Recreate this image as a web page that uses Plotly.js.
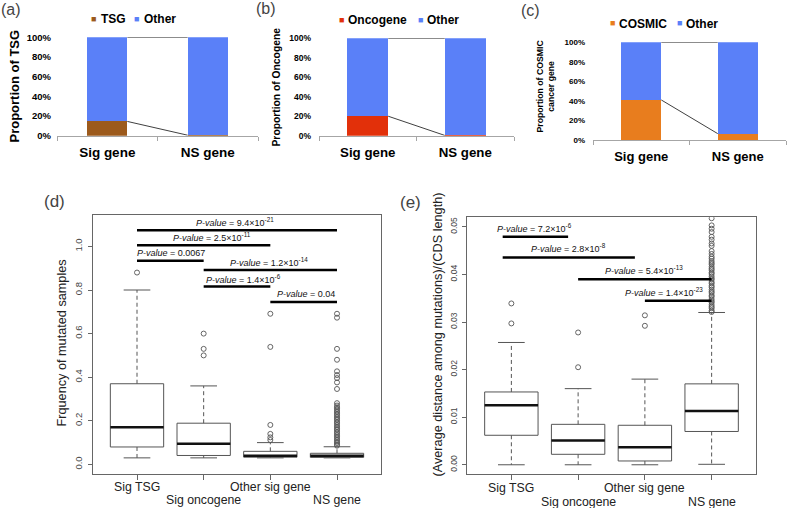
<!DOCTYPE html>
<html><head><meta charset="utf-8">
<script src="https://cdn.plot.ly/plotly-3.0.1.min.js"></script>
<style>html,body{margin:0;padding:0;background:#fff}#chart{width:787px;height:508px}</style>
</head><body><div id="chart"></div>
<script>
// ---------------- data ----------------
const barCategories = ['Sig gene', 'NS gene'];
const tsgShare = [0.145, 0.005];
const tsgOther = [0.855, 0.995];
const oncShare = [0.20, 0.003];
const oncOther = [0.80, 0.997];
const cosmicShare = [0.41, 0.065];
const cosmicOther = [0.59, 0.935];

const boxGroups = ['Sig TSG', 'Sig oncogene', 'Other sig gene', 'NS gene'];

// (d) frequency of mutated samples
const freqLowerWhisker = [0.03, 0.03, 0.03, 0.03];
const freqQ1 = [0.08, 0.041, 0.033, 0.032];
const freqMedian = [0.17, 0.095, 0.04, 0.04];
const freqQ3 = [0.37, 0.189, 0.06, 0.051];
const freqUpperWhisker = [0.80, 0.36, 0.10, 0.081];
const freqOutTSG = [0.88];
const freqOutOnc = [0.50, 0.53, 0.60];
const freqOutOther = [0.112, 0.124, 0.14, 0.181, 0.539, 0.691];
const freqOutNS = [0.086, 0.091, 0.098, 0.104, 0.112, 0.119, 0.127, 0.134, 0.142, 0.149, 0.158, 0.164, 0.172, 0.179, 0.188, 0.194, 0.203, 0.21, 0.217, 0.225, 0.232, 0.24, 0.247, 0.255, 0.262, 0.27, 0.281, 0.346, 0.376, 0.396, 0.41, 0.427, 0.48, 0.53, 0.673, 0.691];
const freqSigFrom = [1, 1, 1, 2, 2, 3];
const freqSigTo = [4, 3, 2, 4, 3, 4];
const freqSigY = [1.074, 1.005, 0.934, 0.892, 0.816, 0.745];
const freqSigTextAt = [2.47, 2.12, 1.51, 2.98, 2.59, 3.53];
const freqSigP = ['9.4×10<sup>-21</sup>', '2.5×10<sup>-11</sup>', '0.0067', '1.2×10<sup>-14</sup>', '1.4×10<sup>-6</sup>', '0.04'];

// (e) average distance among mutations / CDS length
const distLowerWhisker = [0, 0, 0, 0.0001];
const distQ1 = [0.0062, 0.0022, 0.0008, 0.0070];
const distMedian = [0.0125, 0.0051, 0.0037, 0.0113];
const distQ3 = [0.0153, 0.0085, 0.0083, 0.0170];
const distUpperWhisker = [0.0257, 0.0160, 0.0180, 0.0320];
const distOutTSG = [0.0297, 0.0339];
const distOutOnc = [0.0205, 0.0278];
const distOutOther = [0.0292, 0.0314];
const distOutNS = [0.0321, 0.0324, 0.0329, 0.0332, 0.0336, 0.0341, 0.0344, 0.0348, 0.0353, 0.0356, 0.0361, 0.0364, 0.0368, 0.0373, 0.0376, 0.0381, 0.0384, 0.0389, 0.0392, 0.0396, 0.0401, 0.0404, 0.0409, 0.0412, 0.0416, 0.0421, 0.0424, 0.0428, 0.0433, 0.0437, 0.0443, 0.0449, 0.0460, 0.0465, 0.0473, 0.0479, 0.0489, 0.0496, 0.0503, 0.0518];
const distSigFrom = [0.87, 0.87, 2, 3];
const distSigTo = [1.85, 2.85, 4, 4];
const distSigY = [0.0479, 0.04357, 0.0390, 0.03447];
const distSigTextAt = [1.35, 1.85, 2.98, 3.28];
const distSigP = ['7.2×10<sup>-6</sup>', '2.8×10<sup>-8</sup>', '5.4×10<sup>-13</sup>', '1.4×10<sup>-23</sup>'];

// ---------------- styling ----------------
const FONT = 'Liberation Sans, Arial, Helvetica, sans-serif';
const BLUE = '#5a80f8', BROWN = '#9c5a1c', RED = '#e2300a', ORANGE = '#e87d1e';
const W = 787, H = 508;
const px = v => v / W, py = v => 1 - v / H;

const traces = [];
const ann = [];

function txt(text, x, y, opts) {
  const o = Object.assign({text, x: px(x), y: py(y), xref: 'paper', yref: 'paper', showarrow: false,
    xanchor: 'center', yanchor: 'middle', font: {family: FONT, size: 12, color: '#000'}}, opts || {});
  ann.push(o);
}

function barPanel(xa, ya, share, other, colShare, barW) {
  const xs = barCategories.map((_, i) => i);
  traces.push({type: 'bar', x: xs, y: share, width: barW, marker: {color: colShare}, xaxis: xa, yaxis: ya, hoverinfo: 'skip'});
  traces.push({type: 'bar', x: xs, y: other, width: barW, marker: {color: BLUE}, xaxis: xa, yaxis: ya, hoverinfo: 'skip'});
  const tops = share.map((s, i) => s + other[i]);
  traces.push({type: 'scatter', mode: 'lines', xaxis: xa, yaxis: ya, hoverinfo: 'skip',
    x: [xs[0] + barW / 2, xs[1] - barW / 2, null, xs[0] + barW / 2, xs[1] - barW / 2],
    y: [share[0], share[1], null, tops[0], tops[1]],
    line: {color: '#404040', width: 1}});
}

barPanel('x', 'y', tsgShare, tsgOther, BROWN, 0.4);
barPanel('x2', 'y2', oncShare, oncOther, RED, 0.42);
barPanel('x3', 'y3', cosmicShare, cosmicOther, ORANGE, 0.415);

function boxPanel(xa, ya, lo, q1, med, q3, hi, outs, sigFrom, sigTo, sigY) {
  const hw = 0.4, cw = 0.2;
  const bx = [], by = [], mx = [], my = [], wx = [], wy = [], cx = [], cy = [];
  boxGroups.forEach((g, i) => {
    const x = i + 1;
    bx.push(x - hw, x + hw, x + hw, x - hw, x - hw, null); by.push(q1[i], q1[i], q3[i], q3[i], q1[i], null);
    mx.push(x - hw, x + hw, null); my.push(med[i], med[i], null);
    wx.push(x, x, null, x, x, null); wy.push(q3[i], hi[i], null, q1[i], lo[i], null);
    cx.push(x - cw, x + cw, null, x - cw, x + cw, null); cy.push(hi[i], hi[i], null, lo[i], lo[i], null);
  });
  const base = {type: 'scatter', mode: 'lines', xaxis: xa, yaxis: ya, hoverinfo: 'skip'};
  traces.push(Object.assign({}, base, {x: wx, y: wy, line: {color: '#555', width: 1, dash: '4px,3px'}}));
  traces.push(Object.assign({}, base, {x: cx, y: cy, line: {color: '#555', width: 1}}));
  traces.push(Object.assign({}, base, {x: bx, y: by, line: {color: '#555', width: 1}}));
  traces.push(Object.assign({}, base, {x: mx, y: my, line: {color: '#111', width: 2.5}}));
  const ox = [], oy = [];
  outs.forEach((arr, i) => arr.forEach(v => { ox.push(i + 1); oy.push(v); }));
  traces.push({type: 'scatter', mode: 'markers', xaxis: xa, yaxis: ya, hoverinfo: 'skip', x: ox, y: oy,
    marker: {symbol: 'circle-open', size: 5, color: '#555', line: {width: 0.9, color: '#555'}}});
  const sx = [], sy = [];
  sigFrom.forEach((f, i) => { sx.push(f, sigTo[i], null); sy.push(sigY[i], sigY[i], null); });
  traces.push(Object.assign({}, base, {x: sx, y: sy, line: {color: '#000', width: 2.5}}));
}

boxPanel('x4', 'y4', freqLowerWhisker, freqQ1, freqMedian, freqQ3, freqUpperWhisker,
  [freqOutTSG, freqOutOnc, freqOutOther, freqOutNS], freqSigFrom, freqSigTo, freqSigY);
boxPanel('x5', 'y5', distLowerWhisker, distQ1, distMedian, distQ3, distUpperWhisker,
  [distOutTSG, distOutOnc, distOutOther, distOutNS], distSigFrom, distSigTo, distSigY);

// significance labels
freqSigP.forEach((p, i) => ann.push({xref: 'x4', yref: 'y4', x: freqSigTextAt[i], y: freqSigY[i], yshift: 8,
  text: '<i>P-value</i> = ' + p, showarrow: false, xanchor: 'center', yanchor: 'middle',
  font: {family: FONT, size: 9, color: '#111'}}));
distSigP.forEach((p, i) => ann.push({xref: 'x5', yref: 'y5', x: distSigTextAt[i], y: distSigY[i], yshift: 9,
  text: '<i>P-value</i> = ' + p, showarrow: false, xanchor: 'center', yanchor: 'middle',
  font: {family: FONT, size: 9, color: '#111'}}));

// box category labels (staggered like R)
boxGroups.forEach((g, i) => {
  ann.push({xref: 'x4', yref: 'paper', x: i + 1, y: py(i % 2 ? 500 : 486.7), text: g, showarrow: false,
    xanchor: 'center', yanchor: 'middle', font: {family: FONT, size: 12.3, color: '#222'}});
  ann.push({xref: 'x5', yref: 'paper', x: i + 1, y: py(i % 2 ? 501.7 : 488.3), text: g, showarrow: false,
    xanchor: 'center', yanchor: 'middle', font: {family: FONT, size: 12.3, color: '#222'}});
});

// panel letters
txt('(a)', 11, 9.5, {font: {family: FONT, size: 16}});
txt('(b)', 265.5, 9, {font: {family: FONT, size: 16}});
txt('(c)', 530, 11, {font: {family: FONT, size: 16}});
txt('(d)', 54, 202, {font: {family: FONT, size: 17}});
txt('(e)', 410, 202.5, {font: {family: FONT, size: 17}});

// legends
const sq = c => '<span style="color:' + c + '">■</span>';
const bold12 = {family: FONT, size: 12, color: '#000', weight: 'bold'};
const sqFont = {family: FONT, size: 9, color: '#000'};
txt(sq(BROWN), 93.5, 18.5, {font: sqFont});
txt('TSG', 99, 19, {xanchor: 'left', font: bold12});
txt(sq(BLUE), 136, 18.5, {font: sqFont});
txt('Other', 142, 19, {xanchor: 'left', font: bold12});
txt(sq(RED), 341, 19.7, {font: sqFont});
txt('Oncogene', 346, 20, {xanchor: 'left', font: bold12});
txt(sq(BLUE), 420, 19.7, {font: sqFont});
txt('Other', 425, 20, {xanchor: 'left', font: bold12});
txt(sq(ORANGE), 612, 22.7, {font: sqFont});
txt('COSMIC', 617, 23.5, {xanchor: 'left', font: bold12});
txt(sq(BLUE), 679, 22.7, {font: sqFont});
txt('Other', 684, 23.5, {xanchor: 'left', font: bold12});

// axis titles
txt('Proportion of TSG', 13.5, 86, {textangle: -90, font: {family: FONT, size: 13, color: '#000', weight: 'bold'}});
txt('Proportion of Oncogene', 276, 87.5, {textangle: -90, font: {family: FONT, size: 10.3, color: '#000', weight: 'bold'}});
txt('Proportion of COSMIC<br>cancer gene', 544.5, 86, {textangle: -90, font: {family: FONT, size: 8.7, color: '#000', weight: 'bold'}});
txt('Frquency of mutated samples', 61, 343.5, {textangle: -90, font: {family: FONT, size: 12.7, color: '#222'}});
txt('(Average distance among mutations)/(CDS length)', 437.5, 335, {textangle: -90, font: {family: FONT, size: 12.7, color: '#222'}});

// ---------------- axes ----------------
function barX(l, r, tickSize) {
  return {domain: [px(l), px(r)], range: [-0.5, 1.5], tickmode: 'array', tickvals: barCategories.map((_, i) => i),
    ticktext: barCategories, ticks: '', showline: true, linecolor: '#a6a6a6', linewidth: 1,
    showgrid: false, zeroline: false, ticklabelstandoff: 4,
    tickfont: {family: FONT, size: tickSize, color: '#000', weight: 'bold'},
    minor: {tickmode: 'array', tickvals: [-0.5, 0.5, 1.5], ticks: 'outside', ticklen: 4, tickcolor: '#a6a6a6', tickwidth: 1, showgrid: false}};
}
function barY(b, t, tickSize, standoff) {
  return {domain: [py(b), py(t)], range: [0, 1], tickmode: 'array', tickvals: [0, 0.2, 0.4, 0.6, 0.8, 1],
    tickformat: '.0%', ticks: '', showline: false, showgrid: false, zeroline: false, ticklabelstandoff: standoff,
    tickfont: {family: FONT, size: tickSize, color: '#000', weight: 'bold'}};
}
function boxX(l, r) {
  return {domain: [px(l), px(r)], range: [0.34, 4.66], tickmode: 'array', tickvals: [1, 2, 3, 4],
    showticklabels: false, ticks: 'outside', ticklen: 5, tickcolor: '#666', tickwidth: 1,
    showline: true, mirror: true, linecolor: '#666', linewidth: 1, showgrid: false, zeroline: false};
}
function boxY(b, t, range, vals, fmt, size) {
  return {domain: [py(b), py(t)], range, tickmode: 'array', tickvals: vals, tickformat: fmt, tickangle: -90,
    ticks: 'outside', ticklen: 4, tickcolor: '#666', tickwidth: 1, showline: true, mirror: true,
    linecolor: '#666', linewidth: 1, showgrid: false, zeroline: false, ticklabelstandoff: 2,
    tickfont: {family: FONT, size, color: '#444'}};
}

const layout = {
  width: W, height: H, margin: {l: 0, r: 0, t: 0, b: 0}, paper_bgcolor: '#fff', plot_bgcolor: 'rgba(0,0,0,0)',
  showlegend: false, barmode: 'stack', bargap: 0,
  xaxis: barX(57, 258, 13.5), yaxis: barY(135.7, 37.3, 9.5, 5),
  xaxis2: barX(319, 514, 13.3), yaxis2: barY(135.7, 38.3, 8.5, 7),
  xaxis3: barX(593, 786, 13), yaxis3: barY(140, 42.3, 8, 7),
  xaxis4: boxX(93, 381), yaxis4: boxY(474, 215, [-0.044, 1.144], [0, 0.2, 0.4, 0.6, 0.8, 1.0], '.1f', 9.5),
  xaxis5: boxX(467.3, 755.7), yaxis5: boxY(474.3, 217.3, [-0.002, 0.052], [0, 0.01, 0.02, 0.03, 0.04, 0.05], '.2f', 8.5),
  annotations: ann
};
['xaxis', 'xaxis2', 'xaxis3', 'xaxis4', 'xaxis5'].forEach((k, i) => { layout[k].anchor = 'y' + (i ? i + 1 : ''); });
['yaxis', 'yaxis2', 'yaxis3', 'yaxis4', 'yaxis5'].forEach((k, i) => { layout[k].anchor = 'x' + (i ? i + 1 : ''); });

Plotly.newPlot('chart', traces, layout, {staticPlot: true, displayModeBar: false});
</script></body></html>
